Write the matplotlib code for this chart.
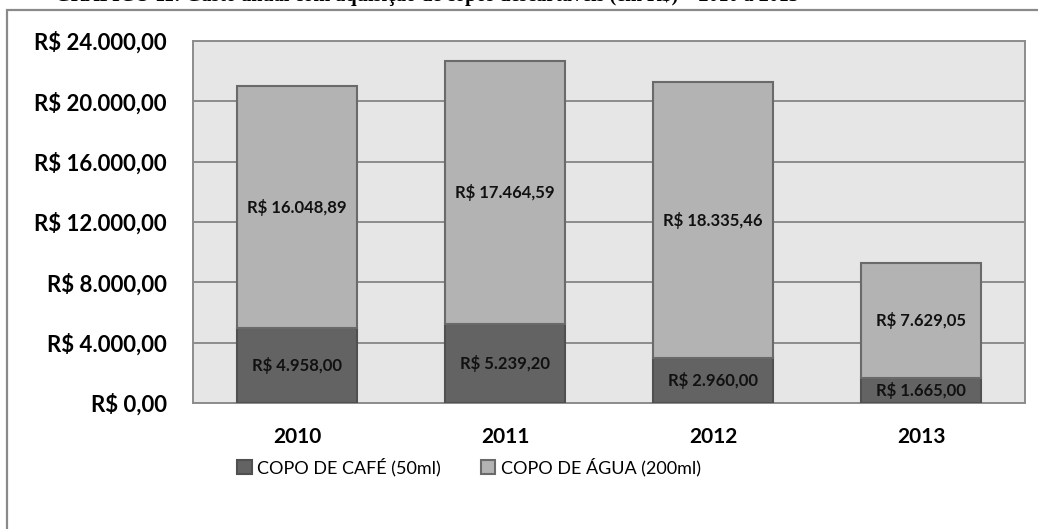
import matplotlib
matplotlib.use('Agg')
import matplotlib.pyplot as plt
from matplotlib.patches import Rectangle
import numpy as np

plt.rcParams['font.family'] = ['Lato', 'DejaVu Sans']

anos = ['2010', '2011', '2012', '2013']
copo_cafe = [4958.00, 5239.20, 2960.00, 1665.00]
copo_agua = [16048.89, 17464.59, 18335.46, 7629.05]
rotulos_cafe = ['R$ 4.958,00', 'R$ 5.239,20', 'R$ 2.960,00', 'R$ 1.665,00']
rotulos_agua = ['R$ 16.048,89', 'R$ 17.464,59', 'R$ 18.335,46', 'R$ 7.629,05']
yticks = [0, 4000, 8000, 12000, 16000, 20000, 24000]
titulo = 'GRÁFICO 11: Gasto anual com aquisição de copos descartáveis (em R$) – 2010 a 2013'


def brl(v):
    s = f'{v:,.2f}'.replace(',', 'X').replace('.', ',').replace('X', '.')
    return 'R$ ' + s


W, H = 1038, 529
fig = plt.figure(figsize=(W / 100, H / 100), dpi=100)
fig.patch.set_facecolor('white')

# moldura externa do gráfico (cortada à direita e embaixo)
fig.patches.append(Rectangle((7 / W, -0.05), 1.1, 1 - 10 / H + 0.05,
                             transform=fig.transFigure, fill=False,
                             edgecolor='#8a8a8a', linewidth=1.6))
# título cortado no topo da imagem (só o pé das letras aparece)
fig.text(55 / W, 1 - 0.5 / H, titulo, ha='left', va='baseline',
         family='Liberation Serif', fontweight='bold', fontsize=14.5)

ax = fig.add_axes([193 / W, 1 - 403 / H, (1025 - 193) / W, (403 - 41) / H])
ax.set_facecolor('#e6e6e6')

x = np.arange(len(anos))
larg = 0.58
ax.bar(x, copo_cafe, larg, color='#636363', edgecolor='#505050', linewidth=1.5,
       label='COPO DE CAFÉ (50ml)', zorder=3)
ax.bar(x, copo_agua, larg, bottom=copo_cafe, color='#b3b3b3', edgecolor='#6a6a6a',
       linewidth=1.5, label='COPO DE ÁGUA (200ml)', zorder=3)

for i in range(len(anos)):
    ax.text(x[i], copo_cafe[i] / 2, rotulos_cafe[i], ha='center', va='center',
            fontsize=12, fontweight='bold', color='#111111', zorder=4)
    ax.text(x[i], copo_cafe[i] + copo_agua[i] / 2, rotulos_agua[i], ha='center',
            va='center', fontsize=12, fontweight='bold', color='#111111', zorder=4)

ax.set_xlim(-0.5, len(anos) - 0.5)
ax.set_ylim(0, 24000)
ax.set_yticks(yticks)
ax.set_yticklabels([brl(v) for v in yticks], fontsize=16, fontweight='bold')
ax.set_xticks(x)
ax.set_xticklabels(anos, fontsize=15, fontweight='bold')
ax.tick_params(axis='y', length=0, pad=19)
ax.tick_params(axis='x', length=0, pad=17)
ax.yaxis.grid(True, color='#8c8c8c', linewidth=1.4, zorder=1)
ax.set_axisbelow(True)
for sp in ax.spines.values():
    sp.set_color('#8c8c8c')
    sp.set_linewidth(1.4)

fig.legend(loc='center', bbox_to_anchor=(469 / W, 1 - 467 / H), ncol=2,
           frameon=False, fontsize=13, handlelength=0.8, handleheight=0.8,
           handletextpad=0.3, columnspacing=2.2)

plt.savefig('out.png', dpi=100)
plt.close()
